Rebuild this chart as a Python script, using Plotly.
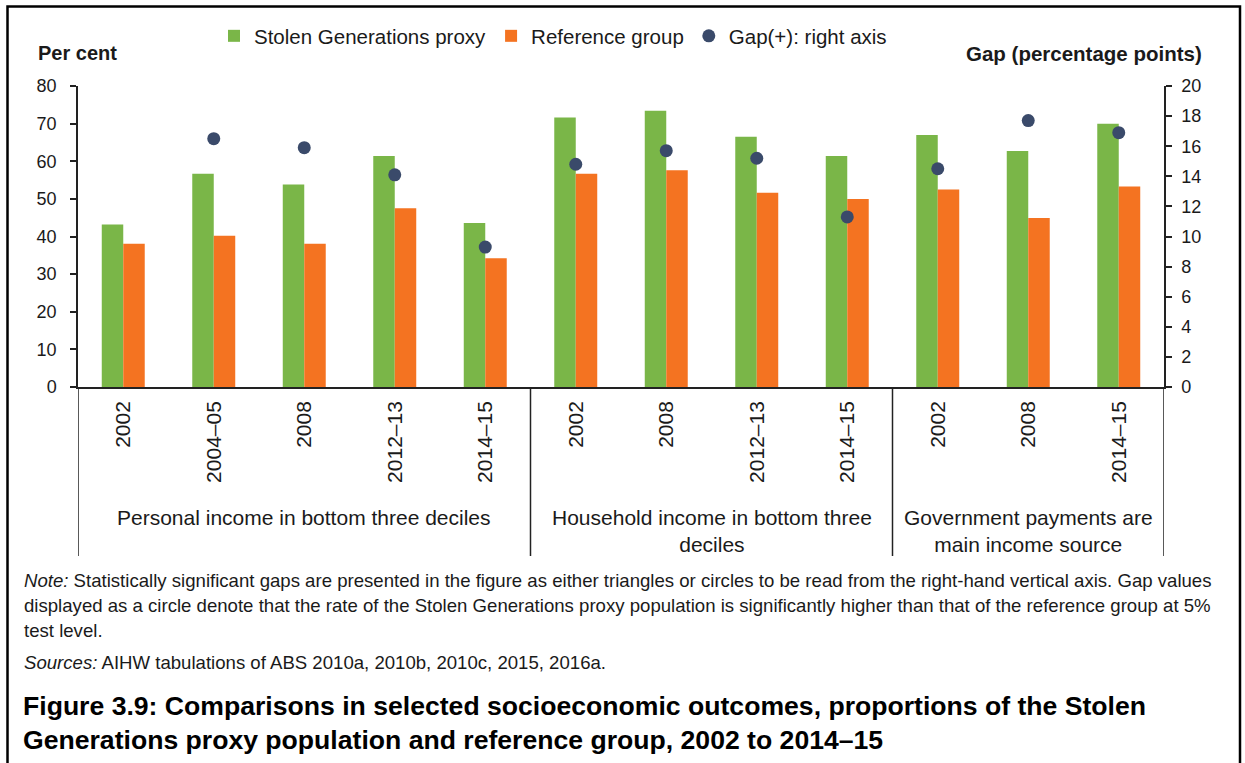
import plotly.graph_objects as go

# ---- data ----
groups = [
    "Personal income in bottom three deciles",
    "Household income in bottom three<br>deciles",
    "Government payments are<br>main income source",
]
group_years = [
    ["2002", "2004–05", "2008", "2012–13", "2014–15"],
    ["2002", "2008", "2012–13", "2014–15"],
    ["2002", "2008", "2014–15"],
]
stolen_gen = [43.2, 56.7, 53.8, 61.4, 43.6, 71.6, 73.4, 66.5, 61.4, 67.0, 62.7, 70.0]
reference = [38.1, 40.2, 38.1, 47.5, 34.2, 56.7, 57.6, 51.6, 50.0, 52.5, 44.9, 53.3]
gap = [None, 16.5, 15.9, 14.1, 9.3, 14.8, 15.7, 15.2, 11.3, 14.5, 17.7, 16.9]

# ---- layout geometry (page pixels) ----
W, H = 1245, 763
L, T = 78, 86
PW, PH = 1086, 301
R = W - L - PW
B = H - T - PH


def px(p):
    return (p - L) / PW


def py(p):
    return (T + PH - p) / PH


FONT = "Liberation Sans, Arial, sans-serif"
TXT = "#1a1a1a"
GREEN = "#7AB648"
ORANGE = "#F47321"
DOT = "#3A4A6A"

keys, labels = [], []
for gi, yrs in enumerate(group_years):
    for y in yrs:
        keys.append(f"{gi}|{y}")
        labels.append(y)

fig = go.Figure()
fig.add_trace(go.Bar(x=keys, y=stolen_gen, name="Stolen Generations proxy",
                     marker=dict(color=GREEN, line=dict(width=0))))
fig.add_trace(go.Bar(x=keys, y=reference, name="Reference group",
                     marker=dict(color=ORANGE, line=dict(width=0))))
fig.add_trace(go.Scatter(x=keys, y=gap, name="Gap(+): right axis", mode="markers",
                         yaxis="y2", marker=dict(color=DOT, size=13)))

axis_common = dict(showline=True, linecolor="#222", linewidth=1.5, ticks="outside",
                   ticklen=6, tickcolor="#222", tickwidth=1.5, showgrid=False,
                   zeroline=False, tickfont=dict(family=FONT, size=18, color=TXT))

fig.update_layout(
    width=W, height=H,
    margin=dict(l=L, r=R, t=T, b=B, autoexpand=False),
    paper_bgcolor="white", plot_bgcolor="white",
    barmode="group", bargap=0.525, bargroupgap=0,
    font=dict(family=FONT, size=18, color=TXT),
    showlegend=True,
    legend=dict(orientation="h", x=px(553), y=py(16), xanchor="center", yanchor="top",
                font=dict(family=FONT, size=20.5, color=TXT), itemwidth=30,
                bgcolor="rgba(0,0,0,0)"),
    xaxis=dict(type="category", tickvals=keys, ticktext=labels, tickangle=-90,
               showline=True, linecolor="#222", linewidth=1.5, ticks="",
               showgrid=False, zeroline=False, range=[-0.5, len(keys) - 0.5],
               tickfont=dict(family=FONT, size=21, color=TXT), ticklabelstandoff=4),
    yaxis=dict(range=[0, 80], dtick=10, ticklabelstandoff=10, **axis_common),
    yaxis2=dict(range=[0, 20], dtick=2, overlaying="y", side="right",
                ticklabelstandoff=6, **axis_common),
)

shapes = []
# group dividers
edges = [-0.5]
for yrs in group_years:
    edges.append(edges[-1] + len(yrs))
for e in edges:
    shapes.append(dict(type="line", xref="x", yref="paper", x0=e, x1=e,
                       y0=0, y1=py(556), line=dict(color="#222", width=1.5)))
# outer frame
shapes.append(dict(type="rect", xref="paper", yref="paper", x0=px(7.5), x1=px(1240),
                   y0=py(800), y1=py(6.5), line=dict(color="black", width=2.5)))
fig.update_layout(shapes=shapes)

ann = []
# group labels
for gi, g in enumerate(groups):
    centre = (edges[gi] + edges[gi + 1]) / 2
    ann.append(dict(text=g, xref="x", yref="paper", x=centre, y=py(504),
                    xanchor="center", yanchor="top", showarrow=False,
                    font=dict(family=FONT, size=21, color=TXT)))
# axis titles
ann.append(dict(text="<b>Per cent</b>", xref="paper", yref="paper", x=px(36), y=py(53),
                xanchor="left", yanchor="middle", showarrow=False,
                font=dict(family=FONT, size=20, color=TXT)))
ann.append(dict(text="<b>Gap (percentage points)</b>", xref="paper", yref="paper",
                x=px(1204), y=py(53), xanchor="right", yanchor="middle", showarrow=False,
                font=dict(family=FONT, size=20.5, color=TXT)))
# notes
note_lines = [
    "<i>Note:</i> Statistically significant gaps are presented in the figure as either triangles or circles to be read from the right-hand vertical axis. Gap values",
    "displayed as a circle denote that the rate of the Stolen Generations proxy population is significantly higher than that of the reference group at 5%",
    "test level.",
]
for i, line in enumerate(note_lines):
    ann.append(dict(text=line, xref="paper", yref="paper", x=px(22), y=py(580 + 25 * i),
                    xanchor="left", yanchor="middle", showarrow=False,
                    font=dict(family=FONT, size=18.6, color=TXT)))
ann.append(dict(text="<i>Sources:</i> AIHW tabulations of ABS 2010a, 2010b, 2010c, 2015, 2016a.",
                xref="paper", yref="paper", x=px(22), y=py(662), xanchor="left",
                yanchor="middle", showarrow=False, font=dict(family=FONT, size=18.6, color=TXT)))
title_lines = [
    "<b>Figure 3.9: Comparisons in selected socioeconomic outcomes, proportions of the Stolen</b>",
    "<b>Generations proxy population and reference group, 2002 to 2014–15</b>",
]
for i, line in enumerate(title_lines):
    ann.append(dict(text=line, xref="paper", yref="paper", x=px(21), y=py(706 + 34 * i),
                    xanchor="left", yanchor="middle", showarrow=False,
                    font=dict(family=FONT, size=26.6, color="black")))
fig.update_layout(annotations=ann)

fig.write_html("out.html", config={"displayModeBar": False},
               post_script="document.body.style.margin='0';document.body.style.overflow='hidden';")
